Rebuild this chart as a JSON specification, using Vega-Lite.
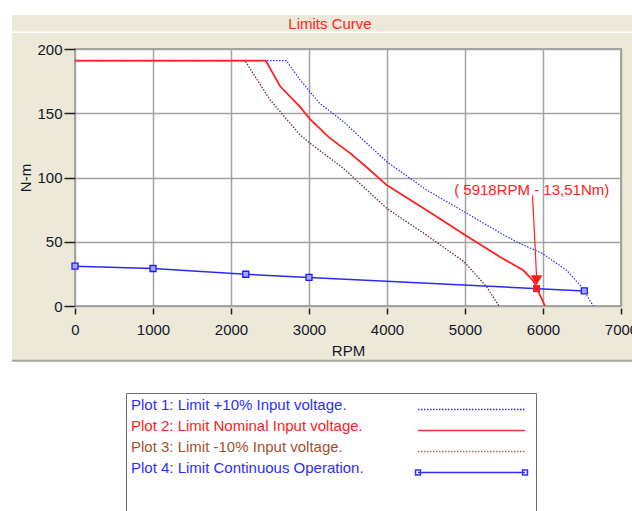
{
  "$schema": "https://vega.github.io/schema/vega-lite/v6.json",
  "width": 546,
  "height": 257,
  "autosize": {"type": "none"},
  "padding": {"left": 75, "top": 49, "right": 11, "bottom": 205},
  "background": "#ECE9D8",
  "view": {"fill": "white", "stroke": "#a6a69c", "strokeWidth": 2},
  "title": {"text": "Limits Curve", "color": "#ff2222", "fontSize": 15, "font": "Liberation Sans", "fontWeight": "normal", "anchor": "middle", "frame": "group", "dx": -18, "offset": -33},
  "datasets": {
    "curves": [
      {"plot": "Plot 1: Limit +10% Input voltage.", "rpm": 0, "nm": 191},
      {"plot": "Plot 1: Limit +10% Input voltage.", "rpm": 2710, "nm": 191},
      {"plot": "Plot 1: Limit +10% Input voltage.", "rpm": 2885, "nm": 176},
      {"plot": "Plot 1: Limit +10% Input voltage.", "rpm": 3132, "nm": 158},
      {"plot": "Plot 1: Limit +10% Input voltage.", "rpm": 3440, "nm": 143.5},
      {"plot": "Plot 1: Limit +10% Input voltage.", "rpm": 3996, "nm": 112.3},
      {"plot": "Plot 1: Limit +10% Input voltage.", "rpm": 4509, "nm": 90.2},
      {"plot": "Plot 1: Limit +10% Input voltage.", "rpm": 4991, "nm": 73.3},
      {"plot": "Plot 1: Limit +10% Input voltage.", "rpm": 5449, "nm": 56.9},
      {"plot": "Plot 1: Limit +10% Input voltage.", "rpm": 5662, "nm": 49.9},
      {"plot": "Plot 1: Limit +10% Input voltage.", "rpm": 5991, "nm": 40.9},
      {"plot": "Plot 1: Limit +10% Input voltage.", "rpm": 6303, "nm": 27.8},
      {"plot": "Plot 1: Limit +10% Input voltage.", "rpm": 6496, "nm": 14.8},
      {"plot": "Plot 1: Limit +10% Input voltage.", "rpm": 6645, "nm": 0},
      {"plot": "Plot 2: Limit Nominal Input voltage.", "rpm": 0, "nm": 191},
      {"plot": "Plot 2: Limit Nominal Input voltage.", "rpm": 2445, "nm": 191},
      {"plot": "Plot 2: Limit Nominal Input voltage.", "rpm": 2630, "nm": 171},
      {"plot": "Plot 2: Limit Nominal Input voltage.", "rpm": 2885, "nm": 155},
      {"plot": "Plot 2: Limit Nominal Input voltage.", "rpm": 3013, "nm": 145.5},
      {"plot": "Plot 2: Limit Nominal Input voltage.", "rpm": 3260, "nm": 131},
      {"plot": "Plot 2: Limit Nominal Input voltage.", "rpm": 3526, "nm": 119},
      {"plot": "Plot 2: Limit Nominal Input voltage.", "rpm": 3740, "nm": 108},
      {"plot": "Plot 2: Limit Nominal Input voltage.", "rpm": 3996, "nm": 94.1},
      {"plot": "Plot 2: Limit Nominal Input voltage.", "rpm": 4509, "nm": 74.6},
      {"plot": "Plot 2: Limit Nominal Input voltage.", "rpm": 4991, "nm": 55.7},
      {"plot": "Plot 2: Limit Nominal Input voltage.", "rpm": 5449, "nm": 38.2},
      {"plot": "Plot 2: Limit Nominal Input voltage.", "rpm": 5748, "nm": 27.8},
      {"plot": "Plot 2: Limit Nominal Input voltage.", "rpm": 5876, "nm": 19.5},
      {"plot": "Plot 2: Limit Nominal Input voltage.", "rpm": 5962, "nm": 8.5},
      {"plot": "Plot 2: Limit Nominal Input voltage.", "rpm": 6026, "nm": 0},
      {"plot": "Plot 3: Limit -10% Input voltage.", "rpm": 0, "nm": 191},
      {"plot": "Plot 3: Limit -10% Input voltage.", "rpm": 2179, "nm": 191},
      {"plot": "Plot 3: Limit -10% Input voltage.", "rpm": 2500, "nm": 160.5},
      {"plot": "Plot 3: Limit -10% Input voltage.", "rpm": 2885, "nm": 133.2},
      {"plot": "Plot 3: Limit -10% Input voltage.", "rpm": 3013, "nm": 126.7},
      {"plot": "Plot 3: Limit -10% Input voltage.", "rpm": 3440, "nm": 107.2},
      {"plot": "Plot 3: Limit -10% Input voltage.", "rpm": 3996, "nm": 76},
      {"plot": "Plot 3: Limit -10% Input voltage.", "rpm": 4509, "nm": 55.1},
      {"plot": "Plot 3: Limit -10% Input voltage.", "rpm": 4991, "nm": 34.3},
      {"plot": "Plot 3: Limit -10% Input voltage.", "rpm": 5278, "nm": 14.8},
      {"plot": "Plot 3: Limit -10% Input voltage.", "rpm": 5436, "nm": 0},
      {"plot": "Plot 4: Limit Continuous Operation.", "rpm": 0, "nm": 31},
      {"plot": "Plot 4: Limit Continuous Operation.", "rpm": 1000, "nm": 29.2},
      {"plot": "Plot 4: Limit Continuous Operation.", "rpm": 2190, "nm": 24.7},
      {"plot": "Plot 4: Limit Continuous Operation.", "rpm": 3000, "nm": 22.2},
      {"plot": "Plot 4: Limit Continuous Operation.", "rpm": 6530, "nm": 11.7}
    ],
    "callout": [
      {"rpm": 5918, "nm": 13.51, "label": "( 5918RPM - 13,51Nm)", "label_rpm": 5855, "label_nm": 90, "arrow_rpm": 5866, "arrow_nm": 86, "tip_nm": 22, "marker_nm": 20}
    ]
  },
  "layer": [
    {
      "data": {"values": [{}]},
      "mark": {"type": "rect", "color": "white"},
      "encoding": {
        "x": {"datum": -1000, "type": "quantitative", "scale": {"domain": [0, 7000], "nice": false, "zero": false}},
        "x2": {"datum": 7500},
        "y": {"datum": 226.5, "type": "quantitative", "scale": {"domain": [0, 200], "nice": false}},
        "y2": {"datum": 239}
      }
    },
    {
      "data": {"values": [{}]},
      "mark": {"type": "rect", "color": "white"},
      "encoding": {
        "x": {"datum": -1000, "type": "quantitative", "scale": {"domain": [0, 7000], "nice": false, "zero": false}},
        "x2": {"datum": -808},
        "y": {"datum": -300, "type": "quantitative", "scale": {"domain": [0, 200], "nice": false}},
        "y2": {"datum": 239}
      }
    },
    {
      "data": {"values": [{}]},
      "mark": {"type": "rect", "color": "white"},
      "encoding": {
        "x": {"datum": -1000, "type": "quantitative", "scale": {"domain": [0, 7000], "nice": false, "zero": false}},
        "x2": {"datum": 7500},
        "y": {"datum": -300, "type": "quantitative", "scale": {"domain": [0, 200], "nice": false}},
        "y2": {"datum": -43.5}
      }
    },
    {
      "data": {"values": [{}]},
      "mark": {"type": "rule", "color": "#aca899", "strokeWidth": 2},
      "encoding": {
        "x": {"datum": -808, "type": "quantitative", "scale": {"domain": [0, 7000], "nice": false, "zero": false}},
        "x2": {"datum": 7500},
        "y": {"datum": -42.6, "type": "quantitative", "scale": {"domain": [0, 200], "nice": false}}
      }
    },
    {
      "data": {"values": [{}]},
      "mark": {"type": "rule", "color": "white", "strokeWidth": 1.5},
      "encoding": {
        "x": {"datum": -808, "type": "quantitative", "scale": {"domain": [0, 7000], "nice": false, "zero": false}},
        "x2": {"datum": 7500},
        "y": {"datum": 213, "type": "quantitative", "scale": {"domain": [0, 200], "nice": false}}
      }
    },
    {
      "data": {"name": "curves"},
      "transform": [{"filter": "indexof(datum.plot, 'Plot 3') === 0"}],
      "mark": {"type": "line", "strokeWidth": 1.3, "strokeDash": [1.5, 1.5], "color": "#5e3328"},
      "encoding": {
        "x": {
          "field": "rpm", "type": "quantitative",
          "scale": {"domain": [0, 7000], "nice": false, "zero": false},
          "axis": {
            "title": "RPM",
            "values": [0, 500, 1000, 1500, 2000, 2500, 3000, 3500, 4000, 4500, 5000, 5500, 6000, 6500, 7000],
            "format": "d",
            "labelExpr": "datum.value % 1000 === 0 ? datum.label : ''",
            "grid": true,
            "gridColor": {"condition": {"test": "datum.value % 1000 === 0", "value": "#a3a3a3"}, "value": "#d6d6d6"},
            "gridWidth": 1.5,
            "tickColor": {"condition": {"test": "datum.value % 1000 === 0", "value": "#202020"}, "value": "transparent"},
            "tickSize": 6,
            "tickWidth": 1.5,
            "offset": 2,
            "domain": false,
            "labelPadding": 8,
            "labelFlush": false,
            "labelOverlap": false,
            "labelBound": false,
            "titlePadding": 6
          }
        },
        "y": {
          "field": "nm", "type": "quantitative",
          "scale": {"domain": [0, 200], "nice": false},
          "axis": {
            "title": "N-m",
            "values": [0, 25, 50, 75, 100, 125, 150, 175, 200],
            "format": "d",
            "labelExpr": "datum.value % 50 === 0 ? datum.label : ''",
            "grid": true,
            "gridColor": {"condition": {"test": "datum.value % 50 === 0", "value": "#a3a3a3"}, "value": "#d6d6d6"},
            "gridWidth": 1.5,
            "tickColor": {"condition": {"test": "datum.value % 50 === 0", "value": "#202020"}, "value": "transparent"},
            "tickSize": 11,
            "tickWidth": 1.5,
            "domain": false,
            "labelPadding": 2,
            "labelFlush": false,
            "labelOverlap": false,
            "titlePadding": 3
          }
        }
      }
    },
    {
      "data": {"name": "curves"},
      "transform": [{"filter": "indexof(datum.plot, 'Plot 1') === 0"}],
      "mark": {"type": "line", "strokeWidth": 1.2},
      "encoding": {
        "x": {"field": "rpm", "type": "quantitative", "scale": {"domain": [0, 7000], "nice": false, "zero": false}},
        "y": {"field": "nm", "type": "quantitative", "scale": {"domain": [0, 200], "nice": false}},
        "color": {
          "field": "plot", "type": "nominal",
          "scale": {
            "domain": ["Plot 1: Limit +10% Input voltage.", "Plot 2: Limit Nominal Input voltage.", "Plot 3: Limit -10% Input voltage.", "Plot 4: Limit Continuous Operation."],
            "range": ["#2a2aff", "#ff3030", "#b06a4a", "#3030ff"]
          },
          "legend": {
            "title": " ",
            "labelColor": {"expr": "indexof(datum.label, 'Plot 2') === 0 ? '#ff2020' : indexof(datum.label, 'Plot 3') === 0 ? '#a0522d' : '#2d2dff'"},
            "symbolType": {"expr": "indexof(datum.label, 'Plot 4') === 0 ? 'M-5,0H5M-5.23,-0.23H-4.77V0.23H-5.23ZM4.77,-0.23H5.23V0.23H4.77Z' : 'M-5,0H5'"}
          }
        },
        "strokeDash": {
          "field": "plot", "type": "nominal",
          "scale": {
            "domain": ["Plot 1: Limit +10% Input voltage.", "Plot 2: Limit Nominal Input voltage.", "Plot 3: Limit -10% Input voltage.", "Plot 4: Limit Continuous Operation."],
            "range": [[1.5, 1.5], [1, 0], [1.5, 1.5], [1, 0]]
          },
          "legend": {"title": " "}
        }
      }
    },
    {
      "data": {"name": "curves"},
      "transform": [{"filter": "indexof(datum.plot, 'Plot 2') === 0"}],
      "mark": {"type": "line", "strokeWidth": 1.8, "color": "#ff2020"},
      "encoding": {
        "x": {"field": "rpm", "type": "quantitative", "scale": {"domain": [0, 7000], "nice": false, "zero": false}},
        "y": {"field": "nm", "type": "quantitative", "scale": {"domain": [0, 200], "nice": false}}
      }
    },
    {
      "data": {"name": "curves"},
      "transform": [{"filter": "indexof(datum.plot, 'Plot 4') === 0"}],
      "mark": {"type": "line", "strokeWidth": 1.5, "color": "#2a2aff"},
      "encoding": {
        "x": {"field": "rpm", "type": "quantitative", "scale": {"domain": [0, 7000], "nice": false, "zero": false}},
        "y": {"field": "nm", "type": "quantitative", "scale": {"domain": [0, 200], "nice": false}}
      }
    },
    {
      "data": {"name": "curves"},
      "transform": [{"filter": "indexof(datum.plot, 'Plot 4') === 0"}],
      "mark": {"type": "point", "shape": "square", "size": 36, "filled": true, "fill": "#a8a8ff", "stroke": "#1a1aff", "strokeWidth": 1.3, "opacity": 1},
      "encoding": {
        "x": {"field": "rpm", "type": "quantitative", "scale": {"domain": [0, 7000], "nice": false, "zero": false}},
        "y": {"field": "nm", "type": "quantitative", "scale": {"domain": [0, 200], "nice": false}}
      }
    },
    {
      "data": {"name": "callout"},
      "mark": {"type": "rule", "color": "#ff2020", "strokeWidth": 1.2},
      "encoding": {
        "x": {"field": "arrow_rpm", "type": "quantitative", "scale": {"domain": [0, 7000], "nice": false, "zero": false}},
        "y": {"field": "arrow_nm", "type": "quantitative", "scale": {"domain": [0, 200], "nice": false}},
        "x2": {"field": "rpm"},
        "y2": {"field": "tip_nm"}
      }
    },
    {
      "data": {"name": "callout"},
      "mark": {"type": "point", "shape": "triangle-down", "size": 130, "filled": true, "color": "#ff1a1a", "opacity": 1},
      "encoding": {
        "x": {"field": "rpm", "type": "quantitative", "scale": {"domain": [0, 7000], "nice": false, "zero": false}},
        "y": {"field": "marker_nm", "type": "quantitative", "scale": {"domain": [0, 200], "nice": false}}
      }
    },
    {
      "data": {"name": "callout"},
      "mark": {"type": "point", "shape": "square", "size": 50, "filled": true, "color": "#ff1a1a", "opacity": 1},
      "encoding": {
        "x": {"field": "rpm", "type": "quantitative", "scale": {"domain": [0, 7000], "nice": false, "zero": false}},
        "y": {"field": "nm", "type": "quantitative", "scale": {"domain": [0, 200], "nice": false}}
      }
    },
    {
      "data": {"name": "callout"},
      "mark": {"type": "text", "color": "#ff2020", "fontSize": 15, "font": "Liberation Sans", "align": "center", "baseline": "middle"},
      "encoding": {
        "x": {"field": "label_rpm", "type": "quantitative", "scale": {"domain": [0, 7000], "nice": false, "zero": false}},
        "y": {"field": "label_nm", "type": "quantitative", "scale": {"domain": [0, 200], "nice": false}},
        "text": {"field": "label"}
      }
    }
  ],
  "config": {
    "font": "Liberation Sans",
    "axis": {
      "labelFont": "Liberation Sans",
      "labelFontSize": 15,
      "labelColor": "#16162a",
      "titleFont": "Liberation Sans",
      "titleFontSize": 15,
      "titleFontWeight": "normal",
      "titleColor": "#16162a"
    },
    "legend": {
      "orient": "none",
      "legendX": 51,
      "legendY": 344,
      "direction": "vertical",
      "fillColor": "white",
      "strokeColor": "#6e6e6e",
      "padding": 5,
      "labelFont": "Liberation Sans",
      "labelFontSize": 15,
      "labelLimit": 400,
      "labelOffset": -352,
      "labelBaseline": "alphabetic",
      "symbolSize": 458,
      "symbolOffset": 329,
      "symbolOpacity": 1,
      "rowPadding": 5,
      "titleOrient": "bottom",
      "titlePadding": 18,
      "titleFontSize": 15
    }
  }
}
